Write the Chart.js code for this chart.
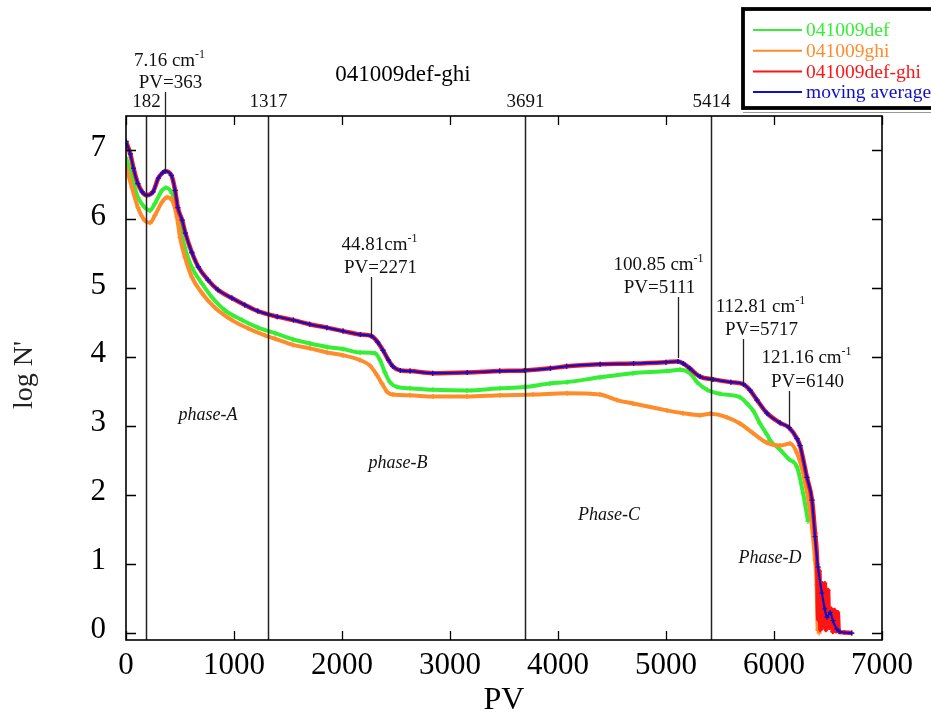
<!DOCTYPE html>
<html>
<head>
<meta charset="utf-8">
<script src="https://cdn.jsdelivr.net/npm/chart.js@4.4.0/dist/chart.umd.min.js"></script>
<style>
  html, body { margin: 0; padding: 0; background: #fff; }
  canvas { display: block; }
</style>
</head>
<body>
<canvas id="c" width="931" height="720"></canvas>
<script>
// ---- series: 041009def (green) ----
const pvDef = [0, 55, 110, 176, 222, 268, 333, 370, 426, 472, 500, 546, 611, 704, 796, 917, 1074, 1222, 1380,
  1546, 1704, 1861, 2009, 2167, 2306, 2352, 2398, 2444, 2509, 2630, 2843, 3157, 3463, 3690, 3926, 4083, 4389,
  4694, 5009, 5130, 5222, 5287, 5380, 5500, 5685, 5750, 5810, 5870, 5935, 5963, 6056, 6140, 6213, 6269, 6315];
const logNDef = [6.90, 6.61, 6.32, 6.17, 6.13, 6.23, 6.42, 6.46, 6.38, 6.17, 5.88, 5.59, 5.30, 5.07, 4.87, 4.68, 4.54, 4.43, 4.35,
  4.26, 4.20, 4.15, 4.12, 4.07, 4.06, 3.96, 3.78, 3.64, 3.57, 3.55, 3.53, 3.52, 3.55, 3.57, 3.62, 3.64, 3.71,
  3.77, 3.80, 3.82, 3.77, 3.64, 3.53, 3.47, 3.42, 3.33, 3.22, 3.04, 2.88, 2.80, 2.66, 2.52, 2.41, 2.03, 1.62];

// ---- series: 041009ghi (orange) ----
const pvGhi = [0, 55, 111, 176, 222, 268, 333, 380, 426, 472, 500, 546, 611, 704, 824, 981, 1130, 1287, 1380,
  1546, 1704, 1861, 2009, 2167, 2259, 2324, 2370, 2417, 2472, 2630, 2843, 3157, 3463, 3769, 4083, 4389, 4546,
  4694, 5009, 5157, 5315, 5407, 5565, 5685, 5806, 5935, 6056, 6148, 6213, 6269, 6333, 6380, 6395, 6405, 6412, 6418];
const logNGhi = [6.77, 6.46, 6.17, 5.98, 5.95, 6.06, 6.25, 6.32, 6.28, 6.03, 5.74, 5.45, 5.16, 4.93, 4.72, 4.54, 4.42, 4.32, 4.27,
  4.18, 4.13, 4.07, 4.03, 3.96, 3.88, 3.74, 3.62, 3.50, 3.46, 3.45, 3.43, 3.43, 3.45, 3.46, 3.48, 3.46, 3.38,
  3.33, 3.23, 3.19, 3.16, 3.18, 3.13, 3.04, 2.90, 2.76, 2.72, 2.75, 2.61, 2.32, 1.78, 1.06, 0.70, 0.05, 0.95, 0.00];

// ---- series: 041009def-ghi (red) ----
const pvDefGhi = [0, 40, 70, 110, 150, 190, 250, 300, 340, 363, 420, 455, 480, 520, 550, 610, 670, 760, 850, 980,
  1100, 1220, 1400, 1550, 1700, 1860, 2010, 2170, 2271, 2330, 2380, 2430, 2470, 2540, 2630, 2840, 3160, 3460,
  3690, 3930, 4080, 4390, 4700, 5000, 5111, 5160, 5220, 5315, 5435, 5600, 5717, 5780, 5843, 5935, 6056, 6140,
  6213, 6241, 6305, 6352, 6380, 6400, 6410, 6420, 6430, 6445, 6455, 6470, 6480, 6500, 6510, 6530, 6545, 6560,
  6575, 6590, 6600, 6650, 6720];
const logNDefGhi = [7.13, 6.95, 6.74, 6.52, 6.40, 6.35, 6.40, 6.60, 6.68, 6.70, 6.64, 6.42, 6.17, 5.99, 5.80, 5.52, 5.31, 5.12, 4.98, 4.86,
  4.76, 4.67, 4.59, 4.54, 4.48, 4.43, 4.38, 4.33, 4.31, 4.22, 4.10, 3.96, 3.87, 3.81, 3.80, 3.77, 3.78, 3.80,
  3.81, 3.84, 3.87, 3.90, 3.91, 3.93, 3.94, 3.91, 3.84, 3.72, 3.68, 3.64, 3.61, 3.52, 3.38, 3.19, 3.05, 2.98,
  2.82, 2.72, 2.26, 1.93, 1.45, 1.00, 0.20, 0.90, 0.05, 0.72, 0.10, 0.72, 0.05, 0.62, 0.08, 0.35, 0.02, 0.33,
  0.03, 0.30, 0.02, 0.01, 0.00];

// ---- series: moving average (blue) ----
const pvAvg = [0, 40, 70, 110, 150, 190, 250, 300, 340, 363, 420, 455, 480, 520, 550, 610, 670, 760, 850, 980,
  1100, 1220, 1400, 1550, 1700, 1860, 2010, 2170, 2271, 2330, 2380, 2430, 2470, 2540, 2630, 2840, 3160, 3460,
  3690, 3930, 4080, 4390, 4700, 5000, 5111, 5160, 5220, 5315, 5435, 5600, 5717, 5780, 5843, 5935, 6056, 6140,
  6213, 6241, 6305, 6352, 6380, 6407, 6444, 6470, 6491, 6520, 6546, 6580, 6611, 6720];
const logNAvg = [7.13, 6.95, 6.74, 6.52, 6.40, 6.35, 6.40, 6.60, 6.68, 6.70, 6.64, 6.42, 6.17, 5.99, 5.80, 5.52, 5.31, 5.12, 4.98, 4.86,
  4.76, 4.67, 4.59, 4.54, 4.48, 4.43, 4.38, 4.33, 4.31, 4.22, 4.10, 3.96, 3.87, 3.81, 3.80, 3.77, 3.78, 3.80,
  3.81, 3.84, 3.87, 3.90, 3.91, 3.93, 3.94, 3.91, 3.84, 3.72, 3.68, 3.64, 3.61, 3.52, 3.38, 3.19, 3.05, 2.98,
  2.82, 2.72, 2.26, 1.93, 1.40, 0.96, 0.58, 0.35, 0.23, 0.30, 0.18, 0.06, 0.02, 0.00];

// ---- axes ----
const xTickValues = [0, 1000, 2000, 3000, 4000, 5000, 6000, 7000];
const yTickValues = [0, 1, 2, 3, 4, 5, 6, 7];

// ---- phase boundaries and peak annotations ----
const phaseBoundaries = [182, 1317, 3691, 5414];
const peakPV = [363, 2271, 5111, 5717, 6140];
const peakWavenumber = ['7.16 cm', '44.81cm', '100.85 cm', '112.81 cm', '121.16 cm'];
const peakLogN = [6.68, 4.32, 3.99, 3.62, 2.98];
const phaseNames = ['phase-A', 'phase-B', 'Phase-C', 'Phase-D'];
const phaseLabelPV = [760, 2518, 4472, 5963];
const phaseLabelLogN = [3.16, 2.46, 1.71, 1.09];

// label placement for the peak callouts: horizontal shift of the text and baselines of the two lines
const peakLabelLayout = [
  { dx: 4,   b1: 66,  b2: 88 },
  { dx: 8,   b1: 250, b2: 273 },
  { dx: -20, b1: 270, b2: 293 },
  { dx: 17,  b1: 312, b2: 335 },
  { dx: 17,  b1: 363, b2: 387 }
];

const SERIF = '"Liberation Serif", "Times New Roman", serif';
const COLORS = { def: '#35ee35', ghi: '#ff8c2a', defGhi: '#ff1414', avg: '#1010c8' };

const toPoints = (xs, ys) => xs.map((x, i) => ({ x: x, y: ys[i] }));

function drawSup(ctx, base, sup, cx, baseline, size) {
  ctx.font = size + 'px ' + SERIF;
  const wb = ctx.measureText(base).width;
  ctx.font = Math.round(size * 0.62) + 'px ' + SERIF;
  const ws = ctx.measureText(sup).width;
  const x0 = cx - (wb + ws) / 2;
  ctx.textAlign = 'left';
  ctx.font = size + 'px ' + SERIF;
  ctx.fillText(base, x0, baseline);
  ctx.font = Math.round(size * 0.62) + 'px ' + SERIF;
  ctx.fillText(sup, x0 + wb, baseline - size * 0.42);
}

const decorations = {
  id: 'decorations',
  beforeDraw(chart) {
    const ctx = chart.ctx;
    ctx.save();
    ctx.fillStyle = '#fff';
    ctx.fillRect(0, 0, chart.width, chart.height);
    ctx.restore();
  },
  afterDatasetsDraw(chart) {
    const ctx = chart.ctx;
    const a = chart.chartArea;
    const xs = chart.scales.x, ys = chart.scales.y;
    ctx.save();
    ctx.fillStyle = '#111';
    ctx.strokeStyle = '#111';

    // phase boundary lines with their PV labels above the frame
    ctx.lineWidth = 1.5;
    ctx.font = '19px ' + SERIF;
    ctx.textAlign = 'center';
    ctx.textBaseline = 'alphabetic';
    phaseBoundaries.forEach(v => {
      const px = Math.round(xs.getPixelForValue(v)) + 0.5;
      ctx.strokeStyle = '#222';
      ctx.beginPath(); ctx.moveTo(px, a.top); ctx.lineTo(px, a.bottom); ctx.stroke();
      ctx.fillText(String(v), px, 107);
    });

    // frame
    ctx.strokeStyle = '#000';
    ctx.lineWidth = 1.6;
    ctx.strokeRect(a.left, a.top, a.right - a.left, a.bottom - a.top);

    // inward ticks on all four sides
    ctx.lineWidth = 1.3;
    xTickValues.forEach(v => {
      const px = Math.round(xs.getPixelForValue(v)) + 0.5;
      ctx.beginPath();
      ctx.moveTo(px, a.bottom); ctx.lineTo(px, a.bottom - 9);
      ctx.moveTo(px, a.top); ctx.lineTo(px, a.top + 9);
      ctx.stroke();
    });
    yTickValues.forEach(v => {
      const py = Math.round(ys.getPixelForValue(v)) + 0.5;
      ctx.beginPath();
      ctx.moveTo(a.left, py); ctx.lineTo(a.left + 10, py);
      ctx.moveTo(a.right, py); ctx.lineTo(a.right - 10, py);
      ctx.stroke();
    });

    // tick labels
    ctx.fillStyle = '#000';
    ctx.font = '31px ' + SERIF;
    ctx.textAlign = 'center';
    ctx.textBaseline = 'middle';
    xTickValues.forEach(v => ctx.fillText(String(v), xs.getPixelForValue(v), 666));
    ctx.textAlign = 'right';
    yTickValues.forEach(v => ctx.fillText(String(v), 106, ys.getPixelForValue(v) - 3));

    // axis titles
    ctx.textAlign = 'center';
    ctx.font = '32px ' + SERIF;
    ctx.fillText('PV', (a.left + a.right) / 2, 701);
    ctx.save();
    ctx.translate(25, 375);
    ctx.rotate(-Math.PI / 2);
    ctx.filter = 'blur(0.7px)';
    ctx.fillStyle = '#222';
    ctx.font = '28px ' + SERIF;
    ctx.fillText("log N'", 0, 0);
    ctx.restore();

    // chart title
    ctx.font = '23px ' + SERIF;
    ctx.textBaseline = 'alphabetic';
    ctx.fillText('041009def-ghi', 403, 81);

    // peak callouts
    ctx.lineWidth = 1.3;
    ctx.strokeStyle = '#222';
    peakPV.forEach((pv, i) => {
      const L = peakLabelLayout[i];
      const px = Math.round(xs.getPixelForValue(pv)) + 0.5;
      const py = ys.getPixelForValue(peakLogN[i]);
      ctx.beginPath(); ctx.moveTo(px, L.b2 + 4); ctx.lineTo(px, py); ctx.stroke();
      ctx.fillStyle = '#111';
      drawSup(ctx, peakWavenumber[i], '-1', px + L.dx, L.b1, 19);
      ctx.font = '19px ' + SERIF;
      ctx.textAlign = 'center';
      ctx.fillText('PV=' + pv, px + L.dx + 1, L.b2);
    });

    // phase names
    ctx.font = 'italic 18px ' + SERIF;
    ctx.textAlign = 'center';
    ctx.textBaseline = 'middle';
    phaseNames.forEach((name, i) => {
      ctx.fillText(name, xs.getPixelForValue(phaseLabelPV[i]), ys.getPixelForValue(phaseLabelLogN[i]));
    });

    // legend box
    const lx = 743, ly = 9, lw = 200, lh = 99;
    ctx.fillStyle = '#fff';
    ctx.fillRect(lx, ly, lw, lh);
    ctx.strokeStyle = '#000';
    ctx.lineWidth = 3.8;
    ctx.strokeRect(lx, ly, lw, lh);
    ctx.strokeStyle = '#999';
    ctx.lineWidth = 1;
    ctx.beginPath(); ctx.moveTo(lx, ly + lh + 4.5); ctx.lineTo(chart.width, ly + lh + 4.5); ctx.stroke();
    ctx.font = '19.5px ' + SERIF;
    ctx.textAlign = 'left';
    ctx.textBaseline = 'middle';
    chart.data.datasets.forEach((ds, i) => {
      const y = 30 + i * 20.7;
      ctx.strokeStyle = ds.borderColor;
      ctx.lineWidth = 2;
      ctx.beginPath(); ctx.moveTo(753, y); ctx.lineTo(802, y); ctx.stroke();
      ctx.fillStyle = ds.borderColor;
      ctx.fillText(ds.label, 806, y + 1);
    });
    ctx.restore();
  }
};

const lineDefaults = {
  showLine: true,
  cubicInterpolationMode: 'monotone',
  pointStyle: 'cross',
  pointRadius: 2.5,
  pointBorderWidth: 1.3
};

new Chart(document.getElementById('c'), {
  type: 'scatter',
  data: {
    datasets: [
      Object.assign({ label: '041009def', data: toPoints(pvDef, logNDef), borderColor: COLORS.def,
        backgroundColor: COLORS.def, borderWidth: 4, order: 3 }, lineDefaults),
      Object.assign({ label: '041009ghi', data: toPoints(pvGhi, logNGhi), borderColor: COLORS.ghi,
        backgroundColor: COLORS.ghi, borderWidth: 4, order: 2 }, lineDefaults),
      Object.assign({ label: '041009def-ghi', data: toPoints(pvDefGhi, logNDefGhi), borderColor: COLORS.defGhi,
        backgroundColor: COLORS.defGhi, borderWidth: 4.5, order: 1 }, lineDefaults),
      Object.assign({ label: 'moving average', data: toPoints(pvAvg, logNAvg), borderColor: COLORS.avg,
        backgroundColor: COLORS.avg, borderWidth: 2.2, order: 0 }, lineDefaults)
    ]
  },
  options: {
    responsive: false,
    animation: false,
    events: [],
    layout: { padding: { left: 126, right: 49, top: 116, bottom: 80 } },
    scales: {
      x: { type: 'linear', min: 0, max: 7000, display: false },
      y: { type: 'linear', min: -0.1, max: 7.5, display: false }
    },
    plugins: {
      legend: { display: false },
      tooltip: { enabled: false },
      title: { display: false }
    }
  },
  plugins: [decorations]
});
</script>
</body>
</html>
